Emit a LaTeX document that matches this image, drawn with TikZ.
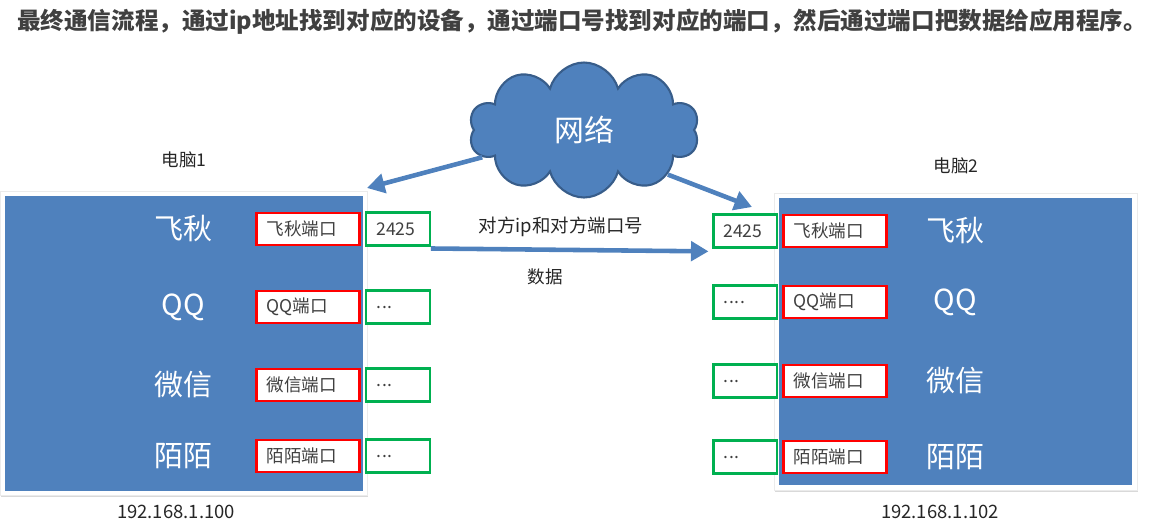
\documentclass[tikz,border=0pt]{standalone}
\usepackage{fontspec}
\setmainfont{Noto Sans CJK SC}
\usepackage{xcolor}
\usetikzlibrary{shapes.symbols,arrows.meta,shadows}
\definecolor{appblue}{HTML}{4F81BD}
\definecolor{cloudedge}{HTML}{385D8A}
\definecolor{portred}{HTML}{FF0000}
\definecolor{numgreen}{HTML}{00B050}
\definecolor{textgray}{HTML}{404040}
\newcommand\threedots{.\kern0.5pt.\kern0.5pt.}
\newcommand\fourdots{.\kern0.5pt.\kern0.5pt.\kern0.5pt.}
\tikzset{
  frame/.style={fill=white, draw=black!8, drop shadow={shadow xshift=0.6pt, shadow yshift=-0.9pt, opacity=0.3}},
  screen/.style={fill=appblue, inner sep=0pt},
  portbox/.style={draw=portred, line width=1.6pt, fill=white, minimum width=2.06cm, minimum height=0.64cm,
    text width=1.66cm, inner xsep=0.2cm, align=left, text=textgray, font=\fontsize{10}{11}\selectfont},
  numbox/.style={draw=numgreen, line width=1.4pt, fill=white, minimum width=1.27cm, minimum height=0.66cm,
    text width=0.87cm, inner xsep=0.2cm, align=left, text=textgray, font=\fontsize{10}{11}\selectfont},
  applabel/.style={text=white, font=\fontsize{16.5}{18}\selectfont},
  plain/.style={text=black!85, font=\fontsize{10}{12}\selectfont},
  bigarrow/.style={draw=appblue, line width=2.6pt, -{Triangle[length=10pt,width=11pt]}}
}
\begin{document}
\begin{tikzpicture}[x=0.02cm, y=-0.02cm]
  \useasboundingbox (0,0) rectangle (1151,531);
  % tieu de
  \node[anchor=west, inner sep=0pt, text=textgray, font=\fontsize{13.4}{15}\selectfont\bfseries] (title) at (17,22)
    {最终通信流程，通过ip地址找到对应的设备，通过端口号找到对应的端口，然后通过端口把数据给应用程序。};
  % hai may tinh
  \node[frame, minimum width=7.34cm, minimum height=6.08cm] (pc1) at (183.5,343) {};
  \node[screen, minimum width=7.16cm, minimum height=5.9cm] (scr1) at (184,343.5) {};
  \node[frame, minimum width=7.26cm, minimum height=5.94cm] (pc2) at (955.5,341.5) {};
  \node[screen, minimum width=7.06cm, minimum height=5.74cm] (scr2) at (955.5,341.5) {};
  \node[plain] (name1) at (184,160) {电脑1};
  \node[plain] (name2) at (956,166) {电脑2};
  \node[plain, font=\fontsize{10.5}{12}\selectfont] (ip1) at (176,512) {192.168.1.100};
  \node[plain, font=\fontsize{10.5}{12}\selectfont] (ip2) at (940,512) {192.168.1.102};
  % ung dung va cong
  \foreach \i/\app/\ly/\ry/\lnum/\rnum in {1/飞秋/229/231/2425/2425, 2/QQ/307/302/\threedots/\fourdots,
      3/微信/385/381/\threedots/\threedots, 4/陌陌/456/457/\threedots/\threedots}{
    \node[applabel] (lapp\i) at (183,\ly) {\app};
    \node[portbox] (lport\i) at (308,\ly) {\app 端口};
    \node[numbox] (lnum\i) at (398,\ly) {\lnum};
    \node[applabel] (rapp\i) at (955,\ry) {\app};
    \node[portbox] (rport\i) at (835,\ry) {\app 端口};
    \node[numbox] (rnum\i) at (745,\ry) {\rnum};
  }
  % mang
  \node[cloud, cloud puffs=10, aspect=1.7, minimum width=4.6cm, minimum height=2.7cm, fill=appblue,
    draw=cloudedge, line width=1.2pt, text=white, font=\fontsize{17}{19}\selectfont] (net) at (584,130) {网络};
  \coordinate (tip1) at (367,188);
  \coordinate (tip2) at (752,207);
  \draw[bigarrow] (net.195) -- (tip1);
  \draw[bigarrow] (net.332) -- (tip2);
  \draw[bigarrow] ([yshift=-1pt]lnum1.south east) -- ([xshift=-2pt,yshift=-1.5pt]rnum1.south west);
  \node[plain, font=\fontsize{10.5}{12}\selectfont] (msg) at (561,227) {对方ip和对方端口号};
  \node[plain] (data) at (545,277) {数据};
\end{tikzpicture}
\end{document}
